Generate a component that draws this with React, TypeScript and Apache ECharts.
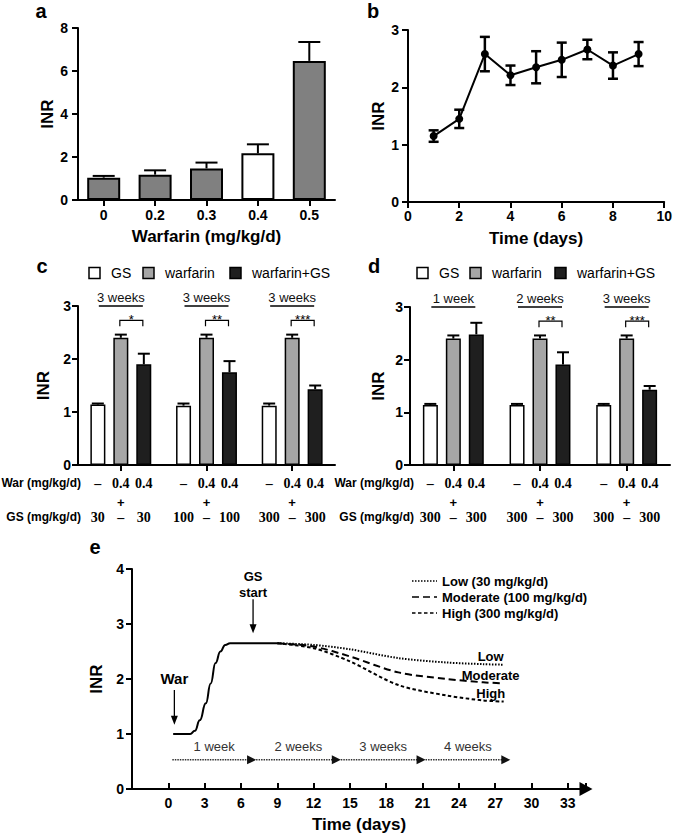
import React, { useEffect, useRef } from 'react';
import * as echarts from 'echarts';

const FONT = "'Liberation Sans', Arial, Helvetica, sans-serif";
const SERIF = "'Liberation Serif', 'Times New Roman', serif";

// ---------- Panel a ----------
const doseCategories = ['0', '0.2', '0.3', '0.4', '0.5'];
const doseINR = [1.04, 1.18, 1.47, 2.17, 6.47];
const doseErr = [0.08, 0.2, 0.27, 0.42, 0.88];
const selectedDose = '0.4';

// ---------- Panel b ----------
const timeDays = [1, 2, 3, 4, 5, 6, 7, 8, 9];
const timeINR = [1.15, 1.45, 2.58, 2.21, 2.35, 2.48, 2.66, 2.38, 2.58];
const timeErr = [0.1, 0.16, 0.3, 0.17, 0.28, 0.3, 0.17, 0.23, 0.21];

// ---------- Panel c ----------
const seriesNames = ['GS', 'warfarin', 'warfarin+GS'];
const cGS = [1.14, 1.12, 1.12];
const cGSErr = [0.02, 0.04, 0.04];
const cWar = [2.4, 2.4, 2.4];
const cWarErr = [0.06, 0.06, 0.06];
const cWarGS = [1.9, 1.75, 1.43];
const cWarGSErr = [0.2, 0.21, 0.07];
const cDuration = ['3 weeks', '3 weeks', '3 weeks'];
const cStars = ['*', '**', '***'];
const cGSDose = ['30', '100', '300'];

// ---------- Panel d ----------
const dGS = [1.14, 1.14, 1.14];
const dGSErr = [0.02, 0.02, 0.02];
const dWar = [2.4, 2.4, 2.4];
const dWarErr = [0.06, 0.06, 0.06];
const dWarGS = [2.48, 1.91, 1.43];
const dWarGSErr = [0.22, 0.23, 0.07];
const dDuration = ['1 week', '2 weeks', '3 weeks'];
const dStars = ['', '**', '***'];
const dGSDose = ['300', '300', '300'];

const warDoseRow = ['\u2013', '0.4', '0.4'];

// ---------- Panel e ----------
const modelBase = [[0.4, 1.0], [1.8, 1.0], [2.2, 1.06], [2.6, 1.25], [3.1, 1.56], [3.5, 1.92], [3.9, 2.29], [4.3, 2.5], [4.7, 2.62], [5.1, 2.65], [9, 2.65]];
const modelLow = [[9, 2.65], [12, 2.62], [15, 2.54], [19, 2.38], [23, 2.3], [26, 2.27], [27.7, 2.26]];
const modelModerate = [[9, 2.65], [12, 2.59], [15, 2.41], [19, 2.12], [23, 2.0], [26, 1.94], [27.7, 1.92]];
const modelHigh = [[9, 2.65], [12, 2.56], [15, 2.32], [19, 1.89], [23, 1.7], [26, 1.61], [27.7, 1.59]];
const curveNames = ['Low', 'Moderate', 'High'];
const legendNames = ['Low (30 mg/kg/d)', 'Moderate (100 mg/kg/d)', 'High (300 mg/kg/d)'];
const weekLabels = ['1 week', '2 weeks', '3 weeks', '4 weeks'];
const weekStart = 0.33;
const weekEnds = [7, 14, 21, 28];
const warStartDay = 0.5;
const gsStartDay = 7;

const BAR_COLORS = ['#ffffff', '#a6a6a6', '#1f1f1f'];
const OFF = 23;
const dashes: any[] = [[1.5, 1.5], [7, 4], [3.5, 2.5]];

const errItem = (offset: number, cap: number, both: boolean, lw: number) => (params: any, api: any) => {
  const x = api.value(0), v = api.value(1), e = api.value(2);
  const pTop = api.coord([x, v + e]);
  const pMid = api.coord([x, v]);
  const pBot = api.coord([x, v - e]);
  const cx = pMid[0] + offset;
  const st = { stroke: '#000', lineWidth: lw };
  const ch: any[] = [
    { type: 'line', shape: { x1: cx, y1: both ? pBot[1] : pMid[1], x2: cx, y2: pTop[1] }, style: st },
    { type: 'line', shape: { x1: cx - cap, y1: pTop[1], x2: cx + cap, y2: pTop[1] }, style: st },
  ];
  if (both) ch.push({ type: 'line', shape: { x1: cx - cap, y1: pBot[1], x2: cx + cap, y2: pBot[1] }, style: st });
  return { type: 'group', children: ch };
};

const tickLabel = { color: '#000', fontSize: 14, fontWeight: 'bold', fontFamily: FONT };
const nameStyle = { color: '#000', fontSize: 17, fontWeight: 'bold', fontFamily: FONT };
const axLine = { show: true, onZero: false, lineStyle: { color: '#000', width: 2 } };
const axTick = { show: true, length: 6, lineStyle: { color: '#000', width: 2 } };

function txt(x: number, y: number, text: string, size: number, weight = 'bold', align = 'center', va = 'middle', family = FONT, fill = '#000') {
  return { type: 'text', x, y, silent: true, style: { text, fontSize: size, fontWeight: weight, fontFamily: family, fill, align, verticalAlign: va } };
}
function ln(x1: number, y1: number, x2: number, y2: number, w = 1.5, dash?: any, color = '#000') {
  return { type: 'line', silent: true, shape: { x1, y1, x2, y2 }, style: { stroke: color, lineWidth: w, lineDash: dash } };
}
function tri(points: number[][], color = '#000') {
  return { type: 'polygon', silent: true, shape: { points }, style: { fill: color } };
}

export default function App() {
  const ref = useRef<HTMLDivElement>(null);
  useEffect(() => {
    const el = ref.current!;
    const chart = echarts.init(el, null, { renderer: 'svg' });

    const groupBars = (g: number, vals: number[][], errs: number[][]) => {
      const out: any[] = [];
      vals.forEach((arr, k) => {
        out.push({
          type: 'bar', name: seriesNames[k], xAxisIndex: g, yAxisIndex: g, data: arr,
          barWidth: 15, barGap: '53%',
          itemStyle: { color: BAR_COLORS[k], borderColor: '#000', borderWidth: 1.5 },
        });
      });
      errs.forEach((arr, k) => {
        out.push({
          type: 'custom', xAxisIndex: g, yAxisIndex: g, z: 5, encode: { x: 0, y: 1 },
          renderItem: errItem((k - 1) * OFF, 6, false, 2),
          data: arr.map((e, i) => [i, vals[k][i], e]),
        });
      });
      return out;
    };

    const catAxis = (g: number, data: string[], extra: any = {}) => ({
      type: 'category', gridIndex: g, data, boundaryGap: true,
      axisLine: axLine, axisTick: { ...axTick, alignWithLabel: true }, splitLine: { show: false },
      axisLabel: { ...tickLabel, margin: 8 }, ...extra,
    });
    const valAxis = (g: number, min: number, max: number, interval: number, extra: any = {}) => ({
      type: 'value', gridIndex: g, min, max, interval,
      axisLine: axLine, axisTick: axTick, splitLine: { show: false },
      ...extra,
    });

    const option: any = {
      animation: false,
      backgroundColor: '#fff',
      grid: [
        { left: 78, top: 28, width: 257, height: 172 },
        { left: 408, top: 30, width: 259, height: 172 },
        { left: 78, top: 306, width: 257, height: 159 },
        { left: 410, top: 307, width: 260, height: 158 },
        { left: 132, top: 569, width: 454, height: 220 },
      ],
      xAxis: [
        catAxis(0, doseCategories, { name: 'Warfarin (mg/kg/d)', nameLocation: 'middle', nameGap: 28, nameTextStyle: nameStyle }),
        valAxis(1, 0, 10, 2, { axisLabel: { ...tickLabel, margin: 7 }, name: 'Time (days)', nameLocation: 'middle', nameGap: 28, nameTextStyle: nameStyle }),
        catAxis(2, ['0', '1', '2'], { axisLabel: { show: false } }),
        catAxis(3, ['0', '1', '2'], { axisLabel: { show: false } }),
        valAxis(4, -3, 34.5, 3, {
          axisLine: { ...axLine, symbol: ['none', 'triangle'], symbolSize: [14, 13] },
          axisTick: { ...axTick, inside: true },
          axisLabel: { ...tickLabel, margin: 7, formatter: (v: number) => (v < 0 || v > 33 ? '' : String(v)) },
          name: 'Time (days)', nameLocation: 'middle', nameGap: 27, nameTextStyle: nameStyle,
        }),
      ],
      yAxis: [
        valAxis(0, 0, 8, 2, { axisLabel: { ...tickLabel, margin: 10 }, name: 'INR', nameLocation: 'middle', nameRotate: 90, nameGap: 21, nameTextStyle: nameStyle }),
        valAxis(1, 0, 3, 1, { axisLabel: { ...tickLabel, margin: 9 }, name: 'INR', nameLocation: 'middle', nameRotate: 90, nameGap: 18, nameTextStyle: nameStyle }),
        valAxis(2, 0, 3, 1, { axisLabel: { ...tickLabel, margin: 7 }, name: 'INR', nameLocation: 'middle', nameRotate: 90, nameGap: 26, nameTextStyle: nameStyle }),
        valAxis(3, 0, 3, 1, { axisLabel: { ...tickLabel, margin: 7 }, name: 'INR', nameLocation: 'middle', nameRotate: 90, nameGap: 23, nameTextStyle: nameStyle }),
        valAxis(4, 0, 4, 1, { axisLabel: { ...tickLabel, margin: 8 }, name: 'INR', nameLocation: 'middle', nameRotate: 90, nameGap: 21, nameTextStyle: nameStyle }),
      ],
      series: [
        {
          type: 'bar', xAxisIndex: 0, yAxisIndex: 0, barWidth: 33,
          itemStyle: { color: '#808080', borderColor: '#000', borderWidth: 2 },
          data: doseINR.map((v, i) => ({ value: v, itemStyle: doseCategories[i] === selectedDose ? { color: '#ffffff' } : undefined })),
        },
        {
          type: 'custom', xAxisIndex: 0, yAxisIndex: 0, z: 5, encode: { x: 0, y: 1 },
          renderItem: errItem(0, 11, false, 2),
          data: doseINR.map((v, i) => [i, v, doseErr[i]]),
        },
        {
          type: 'custom', xAxisIndex: 1, yAxisIndex: 1, z: 3, encode: { x: 0, y: 1 },
          renderItem: errItem(0, 5, true, 2.5),
          data: timeDays.map((d, i) => [d, timeINR[i], timeErr[i]]),
        },
        {
          type: 'line', xAxisIndex: 1, yAxisIndex: 1, z: 4,
          symbol: 'circle', symbolSize: 8,
          itemStyle: { color: '#000' }, lineStyle: { color: '#000', width: 2 },
          data: timeDays.map((d, i) => [d, timeINR[i]]),
        },
        ...groupBars(2, [cGS, cWar, cWarGS], [cGSErr, cWarErr, cWarGSErr]),
        ...groupBars(3, [dGS, dWar, dWarGS], [dGSErr, dWarErr, dWarGSErr]),
        {
          type: 'line', xAxisIndex: 4, yAxisIndex: 4, symbol: 'none', smooth: 0.5, smoothMonotone: 'x',
          lineStyle: { color: '#000', width: 2 }, data: modelBase,
        },
        ...[modelLow, modelModerate, modelHigh].map((d, k) => ({
          type: 'line', name: curveNames[k], xAxisIndex: 4, yAxisIndex: 4, symbol: 'none', smooth: 0.3,
          lineStyle: { color: '#000', width: 2, type: dashes[k] }, data: d,
        })),
      ],
    };
    chart.setOption(option);

    const P = (g: number, x: any, y: number) => chart.convertToPixel({ xAxisIndex: g, yAxisIndex: g }, [x, y]) as number[];
    const G: any[] = [];

    // panel letters
    G.push(txt(41, 10.5, 'a', 20, 'bold'));
    G.push(txt(373, 10.5, 'b', 20, 'bold'));
    G.push(txt(42, 266, 'c', 20, 'bold'));
    G.push(txt(374, 266, 'd', 20, 'bold'));
    G.push(txt(95, 547, 'e', 20, 'bold'));

    // legends for c, d
    const legendRow = (xs: number[], cy: number) => {
      xs.forEach((x, k) => {
        G.push({ type: 'rect', silent: true, shape: { x, y: cy - 5.5, width: 11, height: 11 }, style: { fill: BAR_COLORS[k], stroke: '#000', lineWidth: 1.5 } });
        G.push(txt(x + 22, cy, seriesNames[k], 14, 'normal', 'left', 'middle'));
      });
    };
    legendRow([89, 143, 230], 273);
    legendRow([417, 470, 555], 273);

    const annot = (g: number, gridLeft: number, durations: string[], stars: string[], gsDoses: string[]) => {
      let y0 = 0;
      for (let i = 0; i < 3; i++) {
        const [cx, y3] = P(g, i, 3);
        const yB = P(g, i, 2.73)[1];
        y0 = P(g, i, 0)[1];
        G.push(txt(cx, y3 - 2, durations[i], 13, 'normal', 'center', 'bottom', FONT, '#111'));
        G.push(ln(cx - 22, y3, cx + 22, y3, 1.5));
        if (stars[i]) {
          G.push({ type: 'polyline', silent: true, shape: { points: [[cx - 1, yB + 6], [cx - 1, yB], [cx + OFF - 1, yB], [cx + OFF - 1, yB + 6]] }, style: { stroke: '#000', lineWidth: 1.2, fill: 'none' } });
          G.push(txt(cx + OFF / 2 - 1, yB - 1, stars[i], 13, 'normal', 'center', 'middle'));
        }
        const xs = [cx - OFF, cx, cx + OFF];
        warDoseRow.forEach((s, k) => G.push(txt(xs[k], y0 + 18, s, 14, 'bold', 'center', 'middle', SERIF)));
        G.push(txt(cx, y0 + 37, '+', 13, 'bold', 'center', 'middle'));
        [gsDoses[i], '\u2013', gsDoses[i]].forEach((s, k) => G.push(txt(xs[k], y0 + 52, s, 14, 'bold', 'center', 'middle', SERIF)));
      }
      G.push(txt(gridLeft + 3, y0 + 18, 'War (mg/kg/d)', 12, 'bold', 'right', 'middle'));
      G.push(txt(gridLeft + 3, y0 + 52, 'GS (mg/kg/d)', 12, 'bold', 'right', 'middle'));
    };
    annot(2, 78, cDuration, cStars, cGSDose);
    annot(3, 411, dDuration, dStars, dGSDose);

    // panel e annotations
    const downArrow = (x: number, yTop: number, yTip: number) => {
      G.push(ln(x, yTop, x, yTip - 6, 1.3));
      G.push(tri([[x - 3.5, yTip - 9], [x + 3.5, yTip - 9], [x, yTip]]));
    };
    {
      const [wx, wTop] = P(4, warStartDay, 1.8);
      const wTip = P(4, warStartDay, 1.17)[1];
      const wTxt = P(4, warStartDay, 2.01)[1];
      G.push(txt(wx, wTxt, 'War', 15, 'bold'));
      downArrow(wx, wTop, wTip);
      const [gx, gTop] = P(4, gsStartDay, 3.45);
      const gTip = P(4, gsStartDay, 2.83)[1];
      const gMid = P(4, gsStartDay, 3.725)[1];
      G.push(txt(gx, gMid - 7.5, 'GS', 13, 'bold'));
      G.push(txt(gx, gMid + 8, 'start', 13, 'bold'));
      downArrow(gx, gTop, gTip);

      let prev = P(4, weekStart, 0.53);
      weekEnds.forEach((d, k) => {
        const [ex, ey] = P(4, d, 0.53);
        const tip = ex + 3;
        const sx = k === 0 ? prev[0] : prev[0] + 3;
        G.push(ln(sx, ey, tip - 7, ey, 1.5, [1.5, 1], '#333'));
        G.push(tri([[tip - 9, ey - 4.5], [tip - 9, ey + 4.5], [tip, ey]], '#111'));
        G.push(txt((sx + tip) / 2, ey - 13, weekLabels[k], 13, 'normal', 'center', 'middle', FONT, '#333'));
        prev = [ex, ey];
      });

      [modelLow, modelModerate, modelHigh].forEach((d, k) => {
        const last = d[d.length - 1];
        const [lx, ly] = P(4, last[0], last[1]);
        G.push(txt(lx - 13, ly - 8, curveNames[k], 13, 'bold'));
      });

      const legY = [581, 597, 613];
      legY.forEach((y, k) => {
        G.push(ln(412, y, 437, y, 1.6, dashes[k]));
        G.push(txt(442, y, legendNames[k], 13, 'bold', 'left', 'middle'));
      });
    }

    chart.setOption({ graphic: G });
    return () => chart.dispose();
  }, []);
  return <div ref={ref} style={{ position: 'fixed', left: 0, top: 0, width: 675, height: 836, background: '#fff' }} />;
}
